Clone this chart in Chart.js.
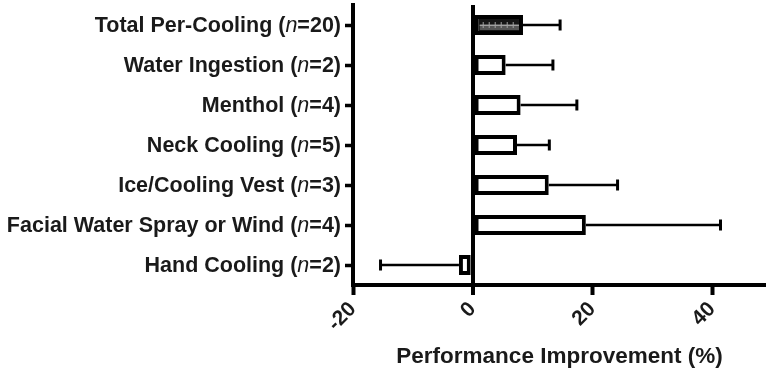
<!DOCTYPE html>
<html><head><meta charset="utf-8">
<script src="https://cdn.jsdelivr.net/npm/chart.js@4.4.0/dist/chart.umd.min.js"></script>
<style>html,body{margin:0;padding:0;background:#fff}#wrap{width:766px;height:371px;position:relative}</style>
</head><body><div id="wrap"><canvas id="c"></canvas></div>
<script>
const categories = ['Total Per-Cooling', 'Water Ingestion', 'Menthol', 'Neck Cooling', 'Ice/Cooling Vest', 'Facial Water Spray or Wind', 'Hand Cooling'];
const sampleSizes = [20, 2, 4, 5, 3, 4, 2];
const means = [8.4, 5.5, 8.0, 7.4, 12.7, 18.9, -2.3];
const errors = [6.2, 7.9, 9.4, 5.4, 11.5, 22.5, 13.1];
const xTicks = [-20, 0, 20, 40];
const xMin = -20, xMax = 49;
const axisTitle = 'Performance Improvement (%)';
const labels = categories.map((c, i) => c + ' (n=' + sampleSizes[i] + ')');

const TXT = '#1a1a1a';
const FONT = '"Liberation Sans", Arial, sans-serif';

const catLabels = {
  id: 'catLabels',
  afterDraw(chart) {
    const ctx = chart.ctx, ys = chart.scales.y;
    const xr = ys.right - 12;
    ctx.save();
    ctx.fillStyle = TXT;
    ctx.textBaseline = 'middle';
    ctx.textAlign = 'left';
    categories.forEach((c, i) => {
      const py = ys.getPixelForValue(i) + 1;
      const parts = [[c + ' (', 'bold 21.5px ' + FONT], ['n', 'italic 21.5px ' + FONT], ['=' + sampleSizes[i] + ')', 'bold 21.5px ' + FONT]];
      let w = 0;
      parts.forEach(p => { ctx.font = p[1]; w += ctx.measureText(p[0]).width; });
      let x = xr - w;
      parts.forEach(p => { ctx.font = p[1]; ctx.fillText(p[0], x, py); x += ctx.measureText(p[0]).width; });
    });
    ctx.restore();
  }
};

const errorBars = {
  id: 'errorBars',
  afterDatasetsDraw(chart) {
    const ctx = chart.ctx, xs = chart.scales.x;
    const meta = chart.getDatasetMeta(0);
    ctx.save();
    // ruler pattern in the pooled bar
    const b0 = meta.data[0];
    const left = Math.min(b0.base, b0.x) + 5, right = Math.max(b0.base, b0.x) - 4;
    ctx.fillStyle = '#555';
    ctx.fillRect(left, b0.y - 1, right - left, 6);
    ctx.strokeStyle = '#a0a0a0';
    ctx.lineWidth = 1;
    ctx.beginPath();
    ctx.moveTo(left, b0.y + 0.5); ctx.lineTo(right, b0.y + 0.5);
    for (let x = left + 3; x < right - 1; x += 6) {
      ctx.moveTo(x + 0.5, b0.y - 3); ctx.lineTo(x + 0.5, b0.y + 3);
    }
    ctx.stroke();
    ctx.strokeStyle = '#000';
    meta.data.forEach((bar, i) => {
      const sign = means[i] < 0 ? -1 : 1;
      const x0 = xs.getPixelForValue(means[i]);
      const x1 = xs.getPixelForValue(means[i] + sign * errors[i]);
      const py = bar.y;
      ctx.lineWidth = 2.5;
      ctx.beginPath(); ctx.moveTo(x0, py); ctx.lineTo(x1, py); ctx.stroke();
      ctx.lineWidth = 3;
      ctx.beginPath(); ctx.moveTo(x1, py - 5.5); ctx.lineTo(x1, py + 5.5); ctx.stroke();
    });
    ctx.restore();
  }
};

new Chart(document.getElementById('c'), {
  type: 'bar',
  data: {
    labels: labels,
    datasets: [{
      data: means,
      backgroundColor: means.map((v, i) => i === 0 ? '#151515' : '#ffffff'),
      borderColor: '#000',
      borderWidth: 4,
      borderSkipped: false,
      barPercentage: 0.5,
      categoryPercentage: 1.0
    }]
  },
  options: {
    indexAxis: 'y',
    responsive: true,
    maintainAspectRatio: false,
    animation: false,
    events: [],
    layout: { padding: { top: 5, left: 0, right: 0, bottom: 0 } },
    plugins: { legend: { display: false }, tooltip: { enabled: false } },
    scales: {
      y: {
        type: 'category',
        afterFit(s) { s.width = 353; },
        ticks: { display: false },
        grid: { offset: false, drawOnChartArea: false, drawTicks: true, tickLength: 8, tickColor: '#000', tickWidth: 3.5, color: '#000' },
        border: { display: true, color: '#000', width: 4 }
      },
      x: {
        type: 'linear',
        min: xMin, max: xMax,
        afterBuildTicks(s) { s.ticks = xTicks.map(v => ({ value: v })); },
        afterFit(s) { s.height = 86; },
        ticks: { color: TXT, font: { family: FONT, size: 21, weight: 'bold' }, minRotation: 45, maxRotation: 45, padding: 2 },
        grid: {
          color: c => (c.tick && c.tick.value === 0) ? '#000' : 'rgba(0,0,0,0)',
          lineWidth: c => (c.tick && c.tick.value === 0) ? 4 : 1,
          tickColor: '#000', tickWidth: 4, tickLength: 10
        },
        border: { display: true, color: '#000', width: 4 },
        title: { display: true, text: axisTitle, color: TXT, font: { family: FONT, size: 22.5, weight: 'bold' }, padding: { top: 2, bottom: 1 } }
      }
    }
  },
  plugins: [catLabels, errorBars]
});
</script>
</body></html>
